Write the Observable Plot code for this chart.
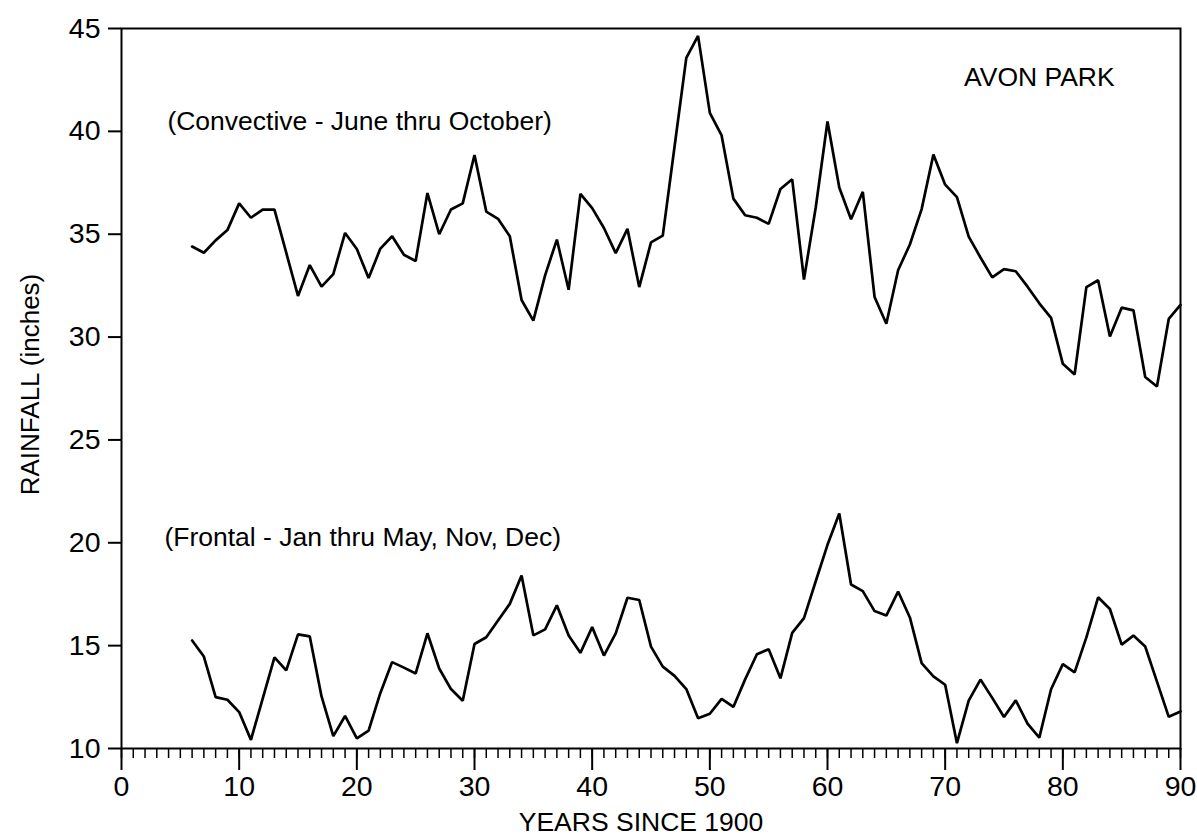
<!DOCTYPE html>
<html>
<head>
<meta charset="utf-8">
<script src="https://cdn.jsdelivr.net/npm/d3@7"></script>
<script src="https://cdn.jsdelivr.net/npm/@observablehq/plot@0.6"></script>
<style>
  html, body { margin: 0; padding: 0; background: #fff; }
  #chart svg { display: block; }
</style>
</head>
<body>
<div id="chart"></div>
<script>
// Years since 1900
const years = d3.range(6, 91);

// Convective season rainfall (June thru October), inches
const convective = [
  34.4, 34.1, 34.7, 35.2, 36.5, 35.8, 36.2, 36.2, 34.1, 32.0,
  33.5, 32.45, 33.06, 35.06, 34.28, 32.87, 34.3, 34.9, 34.0, 33.7,
  37.0, 35.0, 36.2, 36.5, 38.85, 36.1, 35.75, 34.9, 31.8, 30.8,
  33.0, 34.74, 32.3, 36.96, 36.27, 35.3, 34.08, 35.26, 32.43, 34.6,
  34.93, 39.25, 43.57, 44.64, 40.9, 39.8, 36.73, 35.92, 35.8, 35.5,
  37.2, 37.67, 32.8, 36.3, 40.48, 37.27, 35.73, 37.06, 31.95, 30.65,
  33.25, 34.5, 36.22, 38.87, 37.41, 36.8, 34.88, 33.87, 32.9, 33.3,
  33.2, 32.45, 31.64, 30.93, 28.7, 28.18, 32.43, 32.76, 30.03, 31.43,
  31.3, 28.06, 27.6, 30.88, 31.56
];

// Frontal season rainfall (Jan thru May, Nov, Dec), inches
const frontal = [
  15.25, 14.47, 12.5, 12.37, 11.77, 10.42, 12.43, 14.43, 13.8, 15.55,
  15.45, 12.53, 10.6, 11.58, 10.49, 10.87, 12.7, 14.2, 13.93, 13.65,
  15.6, 13.89, 12.89, 12.32, 15.08, 15.41, 16.22, 17.03, 18.41, 15.5,
  15.79, 16.96, 15.49, 14.65, 15.9, 14.52, 15.6, 17.33, 17.22, 14.95,
  13.98, 13.53, 12.89, 11.47, 11.69, 12.41, 12.02, 13.36, 14.58, 14.83,
  13.41, 15.62, 16.34, 18.13, 19.9, 21.42, 17.97, 17.65, 16.68, 16.46,
  17.63, 16.37, 14.15, 13.51, 13.1, 10.26, 12.33, 13.35, 12.46, 11.53,
  12.34, 11.21, 10.53, 12.88, 14.1, 13.7, 15.4, 17.35, 16.78, 15.05,
  15.49, 14.96, 13.25, 11.54, 11.8
];

// Tick values
const yTicks = [10, 15, 20, 25, 30, 35, 40, 45];
const xMajorTicks = [0, 10, 20, 30, 40, 50, 60, 70, 80, 90];
const xMinorTicks = d3.range(0, 91);

// Labels
const labels = [
  {x: 3.9, y: 40.05, text: "(Convective - June thru October)"},
  {x: 3.65, y: 19.85, text: "(Frontal - Jan thru May, Nov, Dec)"},
  {x: 71.6, y: 42.2, text: "AVON PARK"}
];

const conv = years.map((yr, i) => ({year: yr, value: convective[i]}));
const front = years.map((yr, i) => ({year: yr, value: frontal[i]}));

const font = "'Liberation Sans', Arial, Helvetica, sans-serif";

const chart = Plot.plot({
  width: 1197,
  height: 840,
  marginLeft: 121,
  marginRight: 17,
  marginTop: 28,
  marginBottom: 92,
  style: {fontFamily: font, color: "#000", background: "#fff"},
  x: {domain: [0, 90]},
  y: {domain: [10, 45]},
  marks: [
    Plot.frame({stroke: "#000", strokeWidth: 2}),
    Plot.axisY(yTicks, {
      tickSize: 13, tickPadding: 8, fontSize: 28.5, label: null,
      stroke: "#000", strokeWidth: 2
    }),
    Plot.axisX(xMinorTicks, {
      tickSize: 10, tickFormat: () => "", label: null,
      stroke: "#000", strokeWidth: 1.5
    }),
    Plot.axisX(xMajorTicks, {
      tickSize: 22, tickPadding: 5, fontSize: 28.5, label: null,
      stroke: "#000", strokeWidth: 2
    }),
    Plot.line(conv, {x: "year", y: "value", stroke: "#000", strokeWidth: 2.7, strokeLinejoin: "miter"}),
    Plot.line(front, {x: "year", y: "value", stroke: "#000", strokeWidth: 2.7, strokeLinejoin: "miter"}),
    Plot.text(labels, {
      x: "x", y: "y", text: "text", textAnchor: "start", lineAnchor: "bottom",
      fontSize: 26.5, fill: "#000"
    }),
    Plot.text(["YEARS SINCE 1900"], {
      frameAnchor: "bottom", textAnchor: "middle", dx: -10, dy: 82, lineAnchor: "bottom",
      fontSize: 26.5, fill: "#000"
    }),
    Plot.text(["RAINFALL (inches)"], {
      frameAnchor: "left", textAnchor: "middle", dx: -91, dy: -4, rotate: -90, lineAnchor: "middle",
      fontSize: 26, fill: "#000"
    })
  ]
});

document.getElementById("chart").appendChild(chart);
</script>
</body>
</html>
